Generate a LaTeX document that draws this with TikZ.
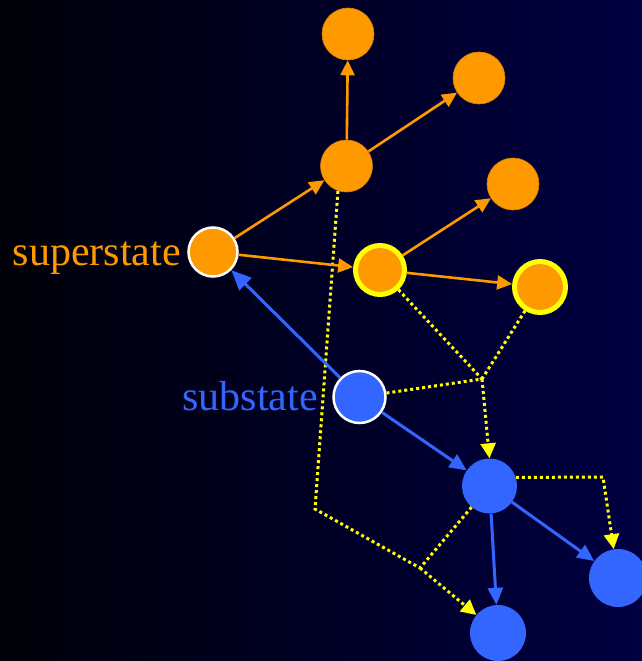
\documentclass[tikz,border=0pt]{standalone}
\usepackage{fontspec}
\setmainfont{Liberation Serif}
\usetikzlibrary{arrows.meta}
\definecolor{org}{RGB}{255,153,0}
\definecolor{blu}{RGB}{51,102,255}
\definecolor{yel}{RGB}{255,255,0}
\definecolor{bgl}{RGB}{0,0,8}
\definecolor{bgr}{RGB}{0,0,66}
\tikzset{
  onode/.style={circle,fill=org,draw=org!85!black,line width=0.6pt,minimum size=52pt,inner sep=0pt},
  ssnode/.style={circle,fill=org,draw=white,line width=2.5pt,minimum size=49pt,inner sep=0pt},
  ynode/.style={circle,fill=org,draw=yel,line width=5pt,minimum size=49pt,inner sep=0pt},
  bnode/.style={circle,fill=blu,minimum size=56pt,inner sep=0pt},
  tnode/.style={circle,fill=blu,draw=white,line width=2.5pt,minimum size=52pt,inner sep=0pt},
  oarr/.style={draw=org,line width=2.6pt,-{Triangle[length=15pt,width=14pt]}},
  barr/.style={draw=blu,line width=3pt,-{Triangle[length=17pt,width=15pt]}},
  ydot/.style={draw=yel,line width=3pt,dash pattern=on 3pt off 3pt},
  yarr/.style={ydot,-{Triangle[length=15pt,width=15pt]}},
  lbl/.style={font=\fontsize{42}{50}\selectfont,inner sep=0pt,anchor=base east}
}
\begin{document}
\begin{tikzpicture}[x=1pt,y=-1pt]
\shade[left color=bgl,right color=bgr] (0,0) rectangle (642,661);
\useasboundingbox (0,0) rectangle (642,661);
% orange nodes
\node[onode] (A) at (348,34) {};
\node[onode] (B) at (479,78) {};
\node[onode] (C) at (346.5,166) {};
\node[onode] (D) at (513,184) {};
\node[ynode] (E) at (380,270) {};
\node[ynode,minimum size=51pt] (F) at (540,287) {};
\node[ssnode] (S) at (213,252) {};
% blue nodes
\node[tnode] (T) at (359.5,397) {};
\node[bnode,minimum size=55pt] (U) at (489.5,486) {};
\node[bnode,minimum size=58pt] (V) at (618,578) {};
\node[bnode] (W) at (498,633) {};
% labels
\node[lbl,text=org] (ls) at (181,265) {superstate};
\node[lbl,text=blu] (lt) at (318,410) {substate};
% coordinates
\coordinate (J) at (482,379);
\coordinate (K1) at (603,477);
\coordinate (L1) at (315,509);
\coordinate (L2) at (420,568);
% yellow dotted
\draw[ydot] (C.-109) -- (L1) -- (L2);
\draw[yarr] (L2) -- (W);
\draw[ydot] (U) -- (L2);
\draw[ydot] (E) -- (J);
\draw[ydot] (F) -- (J);
\draw[ydot] (T) -- (J);
\draw[yarr] (J) -- (U.north);
\draw[yarr] (U.18) -- (K1) -- (V);
% orange arrows
\draw[oarr] (C) -- (A);
\draw[oarr] (C) -- (B);
\draw[oarr] (S) -- (C);
\draw[oarr] (S) -- (E);
\draw[oarr] (E) -- (D);
\draw[oarr] (E) -- (F);
% blue arrows
\draw[barr,-{Triangle[length=20pt,width=17pt]}] (T) -- (S);
\draw[barr] (T) -- (U);
\draw[barr] (U) -- (W);
\draw[barr] (U) -- (V);
\end{tikzpicture}
\end{document}
